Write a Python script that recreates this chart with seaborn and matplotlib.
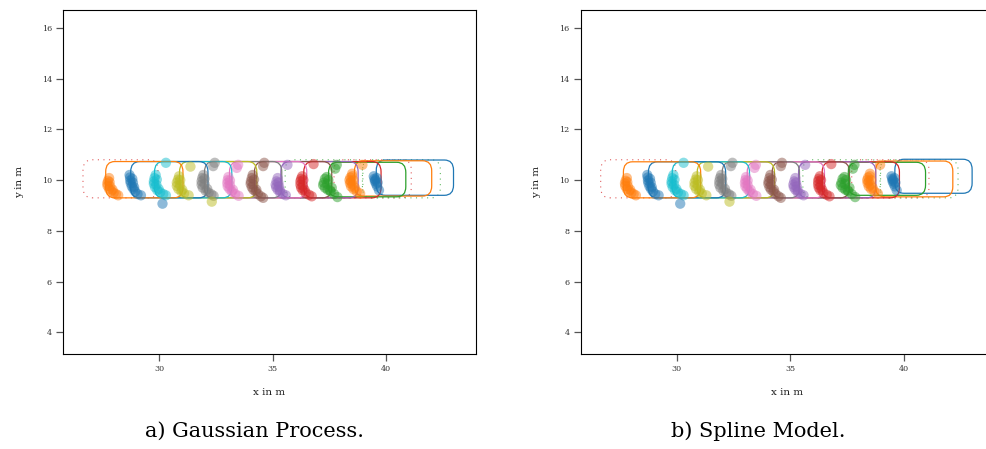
import numpy as np
import pandas as pd
import matplotlib
matplotlib.use("Agg")
import matplotlib.pyplot as plt
from matplotlib.patches import FancyBboxPatch
import seaborn as sns

# ---------------- data (measurement points per time step, t0 = rightmost) ----------------
x_t0 = [39.45, 39.48, 39.50, 39.55, 39.60, 39.68, 39.52, 39.62, 39.58]
y_t0 = [10.15, 10.05, 9.95, 9.85, 9.75, 9.60, 10.00, 9.90, 10.08]
x_t1 = [38.95, 38.50, 38.42, 38.38, 38.40, 38.45, 38.55, 38.70, 38.85, 38.45, 38.50,
        38.55, 38.52, 38.62]
y_t1 = [10.60, 10.25, 10.10, 10.00, 9.88, 9.75, 9.65, 9.55, 9.47, 9.95, 10.15,
        10.00, 9.82, 9.70]
x_t2 = [37.82, 37.75, 37.30, 37.25, 37.22, 37.30, 37.42, 37.55, 37.70, 37.85, 37.45, 37.40, 37.60,
        37.38, 37.52]
y_t2 = [10.60, 10.45, 10.05, 9.90, 9.80, 9.70, 9.62, 9.55, 9.45, 9.33, 10.00, 9.85, 9.70,
        10.12, 9.60]
x_t3 = [36.80, 36.30, 36.25, 36.22, 36.22, 36.25, 36.32, 36.45, 36.60, 36.72,
        36.35, 36.33, 36.40]
y_t3 = [10.63, 10.15, 10.05, 9.95, 9.82, 9.70, 9.60, 9.50, 9.42, 9.36,
        10.00, 9.78, 9.62]
x_t4 = [35.65, 35.22, 35.17, 35.13, 35.15, 35.22, 35.32, 35.45, 35.58, 35.25,
        35.28, 35.32]
y_t4 = [10.60, 10.08, 9.95, 9.82, 9.72, 9.62, 9.52, 9.45, 9.40, 9.90,
        9.75, 9.60]
x_t5 = [34.63, 34.58, 34.12, 34.08, 34.04, 34.03, 34.08, 34.15, 34.25, 34.35, 34.48, 34.58,
        34.18, 34.15, 34.28]
y_t5 = [10.68, 10.55, 10.20, 10.08, 9.95, 9.85, 9.72, 9.62, 9.55, 9.45, 9.36, 9.30,
        10.02, 9.82, 9.62]
x_t6 = [33.48, 33.42, 33.05, 33.02, 33.00, 33.02, 33.10, 33.20, 33.35, 33.50,
        33.12, 33.12, 33.25]
y_t6 = [10.60, 10.48, 10.12, 10.00, 9.88, 9.75, 9.65, 9.55, 9.45, 9.38,
        9.98, 9.80, 9.62]
x_t7 = [32.45, 32.38, 31.95, 31.90, 31.87, 31.87, 31.92, 32.05, 32.18, 32.30, 32.40,
        32.00, 32.00, 32.12]
y_t7 = [10.68, 10.55, 10.20, 10.08, 9.95, 9.82, 9.70, 9.58, 9.50, 9.44, 9.38,
        10.05, 9.85, 9.65]
x_t8 = [31.38, 30.88, 30.83, 30.78, 30.78, 30.85, 30.98, 31.10, 31.30, 32.32,
        30.93, 30.92, 31.02]
y_t8 = [10.53, 10.15, 10.02, 9.90, 9.77, 9.65, 9.55, 9.47, 9.40, 9.15,
        10.00, 9.80, 9.62]
x_t9 = [30.30, 29.85, 29.80, 29.77, 29.77, 29.82, 29.92, 30.05, 30.18, 30.30,
        29.90, 29.88, 29.98]
y_t9 = [10.68, 10.20, 10.08, 9.95, 9.85, 9.72, 9.60, 9.52, 9.45, 9.40,
        10.02, 9.82, 9.65]
x_t10 = [28.70, 28.72, 28.73, 28.75, 28.80, 28.87, 28.95, 29.05, 29.20, 28.85, 30.15,
         28.82, 28.90]
y_t10 = [10.20, 10.10, 9.98, 9.88, 9.75, 9.65, 9.55, 9.45, 9.40, 9.90, 9.07,
         10.05, 9.72]
x_t11 = [27.80, 27.75, 27.72, 27.73, 27.80, 27.90, 28.00, 28.10, 28.20,
         27.82, 27.85, 27.95]
y_t11 = [10.08, 9.97, 9.87, 9.77, 9.65, 9.57, 9.50, 9.45, 9.40,
         9.92, 9.75, 9.62]

point_x = [x_t0, x_t1, x_t2, x_t3, x_t4, x_t5, x_t6, x_t7, x_t8, x_t9, x_t10, x_t11]
point_y = [y_t0, y_t1, y_t2, y_t3, y_t4, y_t5, y_t6, y_t7, y_t8, y_t9, y_t10, y_t11]

# estimated vehicle boxes (solid), per time step
box_length = 3.4
gp_left = [39.56, 38.60, 37.46, 36.37, 35.36, 34.20, 33.10, 32.00, 30.90, 29.80, 28.75, 27.65]
gp_bottom = [9.40, 9.37, 9.34, 9.30, 9.30, 9.30, 9.30, 9.30, 9.30, 9.30, 9.30, 9.30]
gp_top = [10.79, 10.76, 10.70, 10.73, 10.73, 10.73, 10.73, 10.73, 10.73, 10.73, 10.73, 10.73]
sp_left = [39.60, 38.75, 37.55, 36.40, 35.36, 34.20, 33.10, 32.00, 30.90, 29.80, 28.75, 27.65]
sp_bottom = [9.48, 9.34, 9.40, 9.30, 9.30, 9.30, 9.30, 9.30, 9.30, 9.30, 9.30, 9.30]
sp_top = [10.82, 10.75, 10.70, 10.72, 10.72, 10.72, 10.72, 10.72, 10.72, 10.72, 10.72, 10.72]

# dotted (reference) boxes: left, right, colour index
dot_left = [26.65, 37.70, 35.55, 38.95]
dot_right = [29.95, 41.10, 38.97, 42.38]
dot_color = [3, 3, 2, 2]
dot_bottom = 9.30
dot_top = 10.80

x_ticks = [30, 35, 40]
y_ticks = [4, 6, 8, 10, 12, 14, 16]
captions = ["a) Gaussian Process.", "b) Spline Model."]

# ---------------- build table ----------------
rows = []
for t, (xs, ys) in enumerate(zip(point_x, point_y)):
    for xv, yv in zip(xs, ys):
        rows.append({"x": xv, "y": yv, "t": t})
df = pd.DataFrame(rows)

sns.set_theme(style="ticks")
plt.rcParams["font.family"] = ["DejaVu Serif"]
pal10 = sns.color_palette("tab10", 10)
palette = {t: pal10[t % 10] for t in range(len(point_x))}

fig = plt.figure(figsize=(9.87, 4.49), dpi=100)
ax_w = 413 / 987
ax_h = (354 - 9.7) / 449
ax_b = 1 - 354 / 449
axes = [fig.add_axes([63 / 987, ax_b, ax_w, ax_h]),
        fig.add_axes([580.7 / 987, ax_b, ax_w, ax_h])]

box_sets = [(gp_left, gp_bottom, gp_top), (sp_left, sp_bottom, sp_top)]

for ax, (lefts, bots, tops), cap in zip(axes, box_sets, captions):
    # dotted reference boxes
    for l, r, c in zip(dot_left, dot_right, dot_color):
        ax.add_patch(FancyBboxPatch((l, dot_bottom), r - l, dot_top - dot_bottom,
                                    boxstyle="round,pad=0,rounding_size=0.4",
                                    fill=False, ec=pal10[c], lw=0.8, ls=(0, (1, 4)),
                                    alpha=0.75, zorder=2))
    # solid estimated boxes
    for t, (l, b, tp) in enumerate(zip(lefts, bots, tops)):
        ax.add_patch(FancyBboxPatch((l, b), box_length, tp - b,
                                    boxstyle="round,pad=0,rounding_size=0.4",
                                    fill=False, ec=pal10[t % 10], lw=0.9, zorder=3))
    sns.scatterplot(data=df, x="x", y="y", hue="t", palette=palette, ax=ax,
                    s=55, alpha=0.5, linewidth=0, legend=False, zorder=4)

    ax.set_xlim(25.77, 43.95)
    ax.set_ylim(3.15, 16.71)
    ax.set_xticks(x_ticks)
    ax.set_yticks(y_ticks)
    ax.tick_params(direction="out", length=5, width=0.9, color="#555555",
                   labelsize=5.8, labelcolor="#333333", pad=3)
    for sp in ax.spines.values():
        sp.set_visible(True)
        sp.set_color("black")
        sp.set_linewidth(0.8)
    ax.set_xlabel("x in m", fontsize=7.5, labelpad=11, color="#222222")
    ax.set_ylabel("y in m", fontsize=7.5, labelpad=13, color="#222222")

fig.text(255 / 987, 1 - 431 / 449, captions[0], ha="center", va="center",
         fontsize=15, color="black", family=["DejaVu Serif"])
fig.text(758 / 987, 1 - 431 / 449, captions[1], ha="center", va="center",
         fontsize=15, color="black", family=["DejaVu Serif"])

fig.savefig("out.png", dpi=100)
